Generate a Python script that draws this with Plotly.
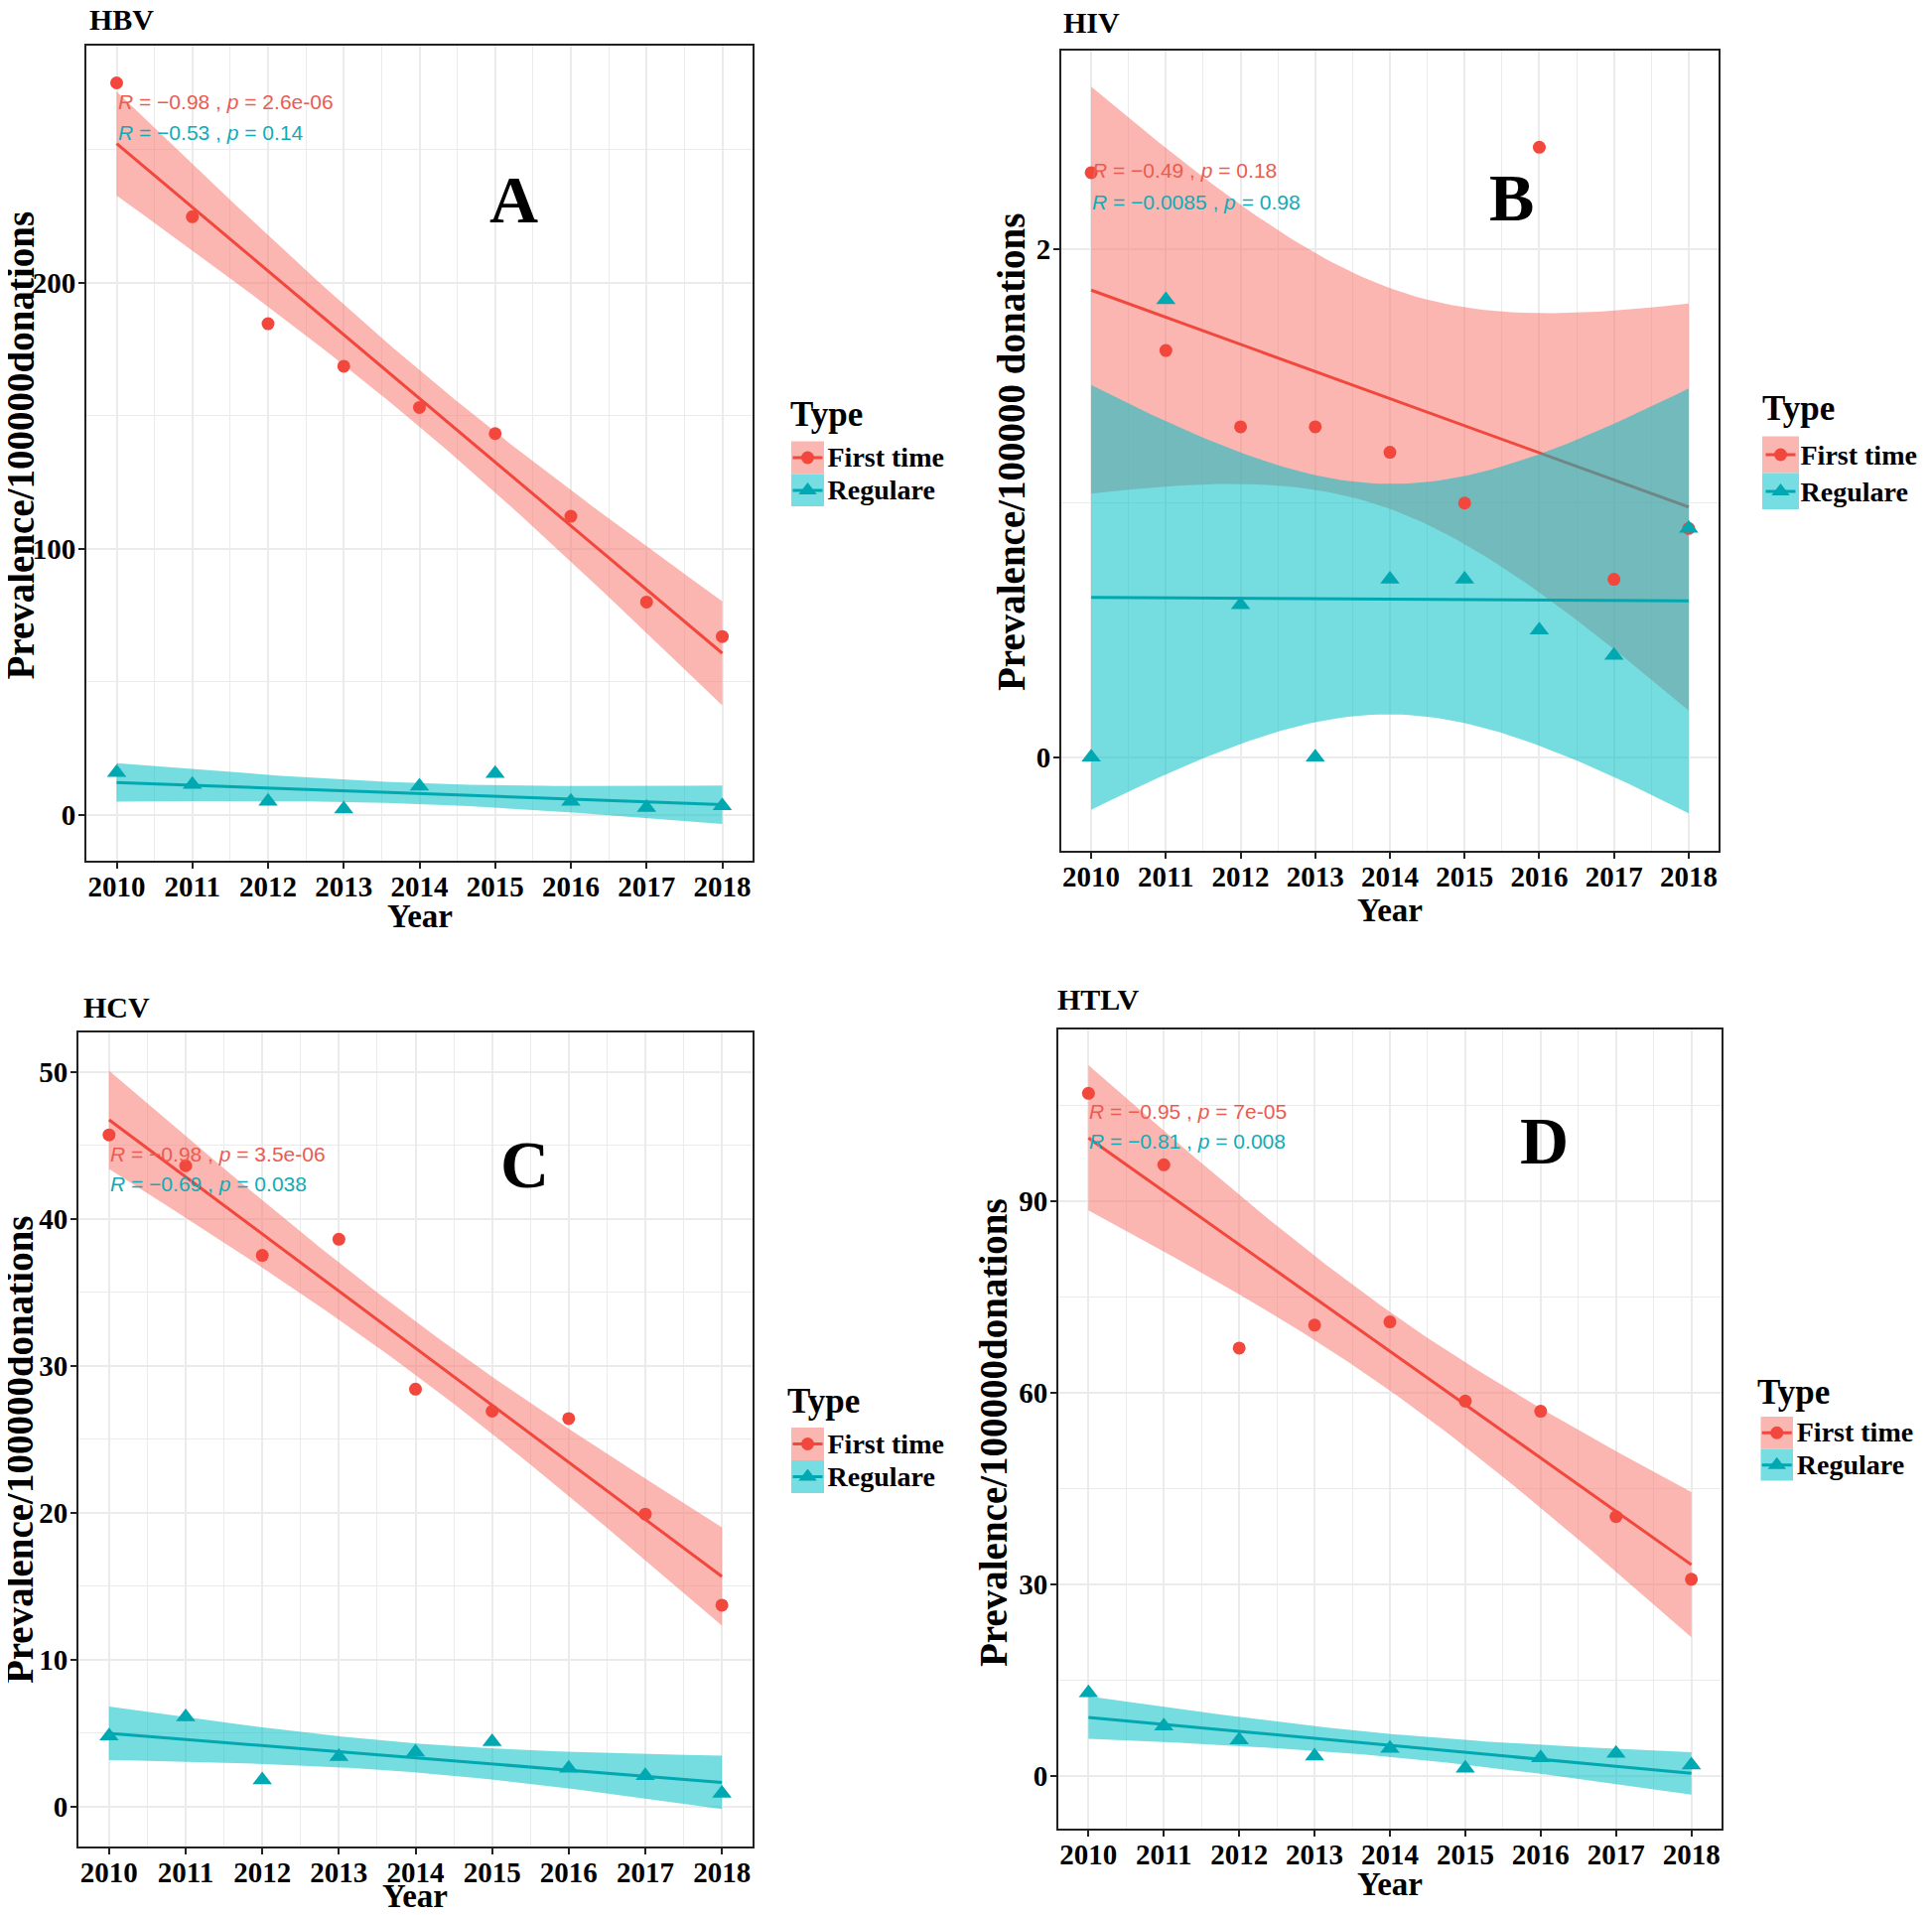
import numpy as np
import plotly.graph_objects as go

# ---------------- data ----------------
years = [2010, 2011, 2012, 2013, 2014, 2015, 2016, 2017, 2018]

hbv_first = [275.0, 224.7, 184.5, 168.5, 153.0, 143.2, 112.1, 79.9, 66.9]
hbv_regular = [15.8, 11.3, 4.9, 2.1, 10.6, 15.4, 4.9, 2.6, 3.3]
hiv_first = [2.3, 1.6, 1.3, 1.3, 1.2, 1.0, 2.4, 0.7, 0.9]
hiv_regular = [0.0, 1.8, 0.6, 0.0, 0.7, 0.7, 0.5, 0.4, 0.9]
hcv_first = [45.7, 43.6, 37.5, 38.6, 28.4, 26.9, 26.4, 19.9, 13.7]
hcv_regular = [4.8, 6.1, 1.8, 3.4, 3.7, 4.4, 2.6, 2.1, 0.9]
htlv_first = [106.9, 95.7, 67.0, 70.6, 71.1, 58.7, 57.1, 40.6, 30.8]
htlv_regular = [13.0, 7.8, 5.6, 3.1, 4.3, 1.2, 2.8, 3.5, 1.7]

series_names = ["First time", "Regulare"]
panel_titles = ["HBV", "HIV", "HCV", "HTLV"]
panel_letters = ["A", "B", "C", "D"]
r_first = ["\u22120.98", "\u22120.49", "\u22120.98", "\u22120.95"]
p_first = ["2.6e-06", "0.18", "3.5e-06", "7e-05"]
r_regular = ["\u22120.53", "\u22120.0085", "\u22120.69", "\u22120.81"]
p_regular = ["0.14", "0.98", "0.038", "0.008"]
y_titles = ["Prevalence/100000donations", "Prevalence/100000 donations",
            "Prevalence/100000donations", "Prevalence/100000donations"]
x_title = "Year"
legend_title = "Type"

panels = [(hbv_first, hbv_regular), (hiv_first, hiv_regular),
          (hcv_first, hcv_regular), (htlv_first, htlv_regular)]

# ---------------- layout geometry (window pixels) ----------------
WIN_W, WIN_H = 1946, 1929
OFF = 8                      # default body margin of the html page
W, H = WIN_W - 2 * OFF, WIN_H - 2 * OFF


def PX(x):
    return (x - OFF) / W


def PY(y):
    return 1 - (y - OFF) / H


boxes = [(87, 758, 46, 867), (1069, 1731, 51, 857),
         (79, 758, 1040, 1860), (1066, 1734, 1037, 1842)]
yranges = [(-17.35, 289.0), (-0.368, 2.78), (-2.72, 52.67), (-8.26, 116.9)]
ydticks = [100, 2, 10, 30]
letter_pos = [(2015.24, 231), (2015.63, 2.203), (2015.43, 43.7), (2016.05, 99.5)]
rlab_y = [(267.8, 256.4), (2.311, 2.184), (44.4, 42.4), (104.0, 99.4)]
title_pos = [(88.7, 20), (1070.4, 22), (82.5, 1014.4), (1064, 1006)]
xtitle_pos = [(422.5, 923), (1400, 917), (418, 1910), (1400, 1898)]
ytitle_pos = [(19.5, 449), (1018, 456), (19.5, 1460.6), (1000, 1443)]
type_pos = [(795, 418), (1773.5, 411.5), (792.4, 1411), (1768.5, 1402)]
# legend key boxes: x0, x1, y0, ymid, y1
keys = [(797, 830, 444.5, 477.5, 510), (1775, 1812, 439.5, 476.5, 513),
        (797, 830, 1438, 1471, 1504), (1773.5, 1806, 1427, 1459.5, 1491.5)]

RED = "#F2473D"
CYAN = "#00A8B1"
RED_FILL = "rgba(248,118,109,0.53)"
CYAN_FILL = "rgba(0,191,196,0.54)"
RED_KEY = "#FAB7B2"
CYAN_KEY = "#76DEE2"
RED_TXT = "#EC5B50"
CYAN_TXT = "#12ABB5"
GRID = "#EBEBEB"
BORDER = "#222222"
SERIF = "Liberation Serif"
SANS = "Liberation Sans"


def lm_band(x, y, n=80, t=2.364624):
    x = np.asarray(x, float)
    y = np.asarray(y, float)
    b, a = np.polyfit(x, y, 1)
    xs = np.linspace(x.min(), x.max(), n)
    fit = a + b * xs
    resid = y - (a + b * x)
    s = np.sqrt(np.sum(resid ** 2) / (len(x) - 2))
    sxx = np.sum((x - x.mean()) ** 2)
    se = s * np.sqrt(1.0 / len(x) + (xs - x.mean()) ** 2 / sxx)
    return xs, fit, fit - t * se, fit + t * se


fig = go.Figure()
annotations = []
shapes = []
layout = dict(width=W, height=H, margin=dict(l=0, r=0, t=0, b=0),
              paper_bgcolor="white", plot_bgcolor="white", showlegend=True)

xtickfont = dict(family=SERIF, size=29, color="black", weight="bold")
ytickfont = dict(family=SERIF, size=29, color="black", weight="bold")

for i, (first, regular) in enumerate(panels):
    sfx = "" if i == 0 else str(i + 1)
    xa, ya = "x" + sfx, "y" + sfx
    lg = "legend" + sfx

    groups = [(first, RED, RED_FILL, "circle", 13),
              (regular, CYAN, CYAN_FILL, "triangle-up", 17)]
    for vals, col, fillc, sym, msz in groups:
        xs, fit, lo, hi = lm_band(years, vals)
        fig.add_trace(go.Scatter(
            x=np.concatenate([xs, xs[::-1]]), y=np.concatenate([hi, lo[::-1]]),
            fill="toself", fillcolor=fillc, line=dict(width=0), mode="lines",
            hoverinfo="skip", showlegend=False, xaxis=xa, yaxis=ya))
        fig.add_trace(go.Scatter(
            x=xs, y=fit, mode="lines", line=dict(color=col, width=3),
            hoverinfo="skip", showlegend=False, xaxis=xa, yaxis=ya))
    for vals, col, fillc, sym, msz in groups:
        fig.add_trace(go.Scatter(
            x=years, y=vals, mode="markers",
            marker=dict(color=col, symbol=sym, size=msz, line=dict(width=0)),
            showlegend=False, xaxis=xa, yaxis=ya))
    # legend entries
    for name, (vals, col, fillc, sym, msz) in zip(series_names, groups):
        fig.add_trace(go.Scatter(
            x=[None], y=[None], mode="lines+markers",
            name="<span style='font-size:28px'>" + name + "</span>",
            line=dict(color=col, width=3),
            marker=dict(color=col, symbol=sym, size=msz),
            legend=lg, xaxis=xa, yaxis=ya))

    l, r, t, b = boxes[i]
    layout["xaxis" + sfx] = dict(
        domain=[PX(l), PX(r)], range=[2009.6, 2018.4], anchor=ya,
        tickmode="array", tickvals=years, ticktext=[str(y) for y in years],
        showline=True, mirror=True, linecolor=BORDER, linewidth=2,
        ticks="outside", ticklen=6, tickwidth=2, tickcolor=BORDER,
        ticklabelstandoff=-7,
        showgrid=True, gridcolor=GRID, gridwidth=1.8, zeroline=False,
        tickfont=xtickfont, fixedrange=True,
        minor=dict(tickmode="linear", tick0=2009.5, dtick=1, showgrid=True,
                   gridcolor=GRID, gridwidth=1.2, ticks=""))
    dt = ydticks[i]
    layout["yaxis" + sfx] = dict(
        domain=[PY(b), PY(t)], range=list(yranges[i]), anchor=xa,
        tickmode="linear", tick0=0, dtick=dt,
        showline=True, mirror=True, linecolor=BORDER, linewidth=2,
        ticks="outside", ticklen=6, tickwidth=2, tickcolor=BORDER,
        ticklabelstandoff=-3,
        showgrid=True, gridcolor=GRID, gridwidth=1.8, zeroline=False,
        tickfont=ytickfont, fixedrange=True,
        minor=dict(tickmode="linear", tick0=dt / 2, dtick=dt, showgrid=True,
                   gridcolor=GRID, gridwidth=1.2, ticks=""))

    # legend placement
    kx0, kx1, ky0, kym, ky1 = keys[i]
    kcx = (kx0 + kx1) / 2
    h1 = kym - ky0
    fs = (h1 - 3) / 1.3
    top = ky0 - 5
    layout[lg] = dict(x=PX(kcx - 20), y=PY(top), xanchor="left", yanchor="top",
                      bgcolor="rgba(0,0,0,0)", borderwidth=0,
                      font=dict(family=SERIF, size=fs, color="black", weight="bold"),
                      tracegroupgap=0)
    shapes.append(dict(type="rect", xref="paper", yref="paper", layer="below",
                       x0=PX(kx0), x1=PX(kx1), y0=PY(ky0), y1=PY(kym),
                       fillcolor=RED_KEY, line=dict(width=0)))
    shapes.append(dict(type="rect", xref="paper", yref="paper", layer="below",
                       x0=PX(kx0), x1=PX(kx1), y0=PY(kym), y1=PY(ky1),
                       fillcolor=CYAN_KEY, line=dict(width=0)))

    # texts
    tx, ty = title_pos[i]
    annotations.append(dict(text=panel_titles[i], xref="paper", yref="paper",
                            x=PX(tx), y=PY(ty), xanchor="left", yanchor="middle",
                            showarrow=False, borderpad=0,
                            font=dict(family=SERIF, size=30, color="black", weight="bold")))
    tx, ty = xtitle_pos[i]
    annotations.append(dict(text=x_title, xref="paper", yref="paper",
                            x=PX(tx), y=PY(ty), xanchor="center", yanchor="middle",
                            showarrow=False, borderpad=0,
                            font=dict(family=SERIF, size=33, color="black", weight="bold")))
    tx, ty = ytitle_pos[i]
    annotations.append(dict(text=y_titles[i], xref="paper", yref="paper", textangle=-90,
                            x=PX(tx), y=PY(ty), xanchor="center", yanchor="middle",
                            showarrow=False, borderpad=0,
                            font=dict(family=SERIF, size=39, color="black", weight="bold")))
    tx, ty = type_pos[i]
    annotations.append(dict(text=legend_title, xref="paper", yref="paper",
                            x=PX(tx), y=PY(ty), xanchor="left", yanchor="middle",
                            showarrow=False, borderpad=0,
                            font=dict(family=SERIF, size=35, color="black", weight="bold")))
    lx, ly = letter_pos[i]
    annotations.append(dict(text=panel_letters[i], xref=xa, yref=ya, x=lx, y=ly,
                            xanchor="center", yanchor="middle", showarrow=False,
                            font=dict(family=SERIF, size=68, color="black", weight="bold")))
    y1, y2 = rlab_y[i]
    annotations.append(dict(text="<i>R</i> = " + r_first[i] + " , <i>p</i> = " + p_first[i],
                            xref=xa, yref=ya, x=2010, y=y1, xanchor="left", yanchor="middle",
                            showarrow=False, borderpad=0,
                            font=dict(family=SANS, size=21, color=RED_TXT)))
    annotations.append(dict(text="<i>R</i> = " + r_regular[i] + " , <i>p</i> = " + p_regular[i],
                            xref=xa, yref=ya, x=2010, y=y2, xanchor="left", yanchor="middle",
                            showarrow=False, borderpad=0,
                            font=dict(family=SANS, size=21, color=CYAN_TXT)))

layout["annotations"] = annotations
layout["shapes"] = shapes
fig.update_layout(**layout)
fig.write_html("out.html")
